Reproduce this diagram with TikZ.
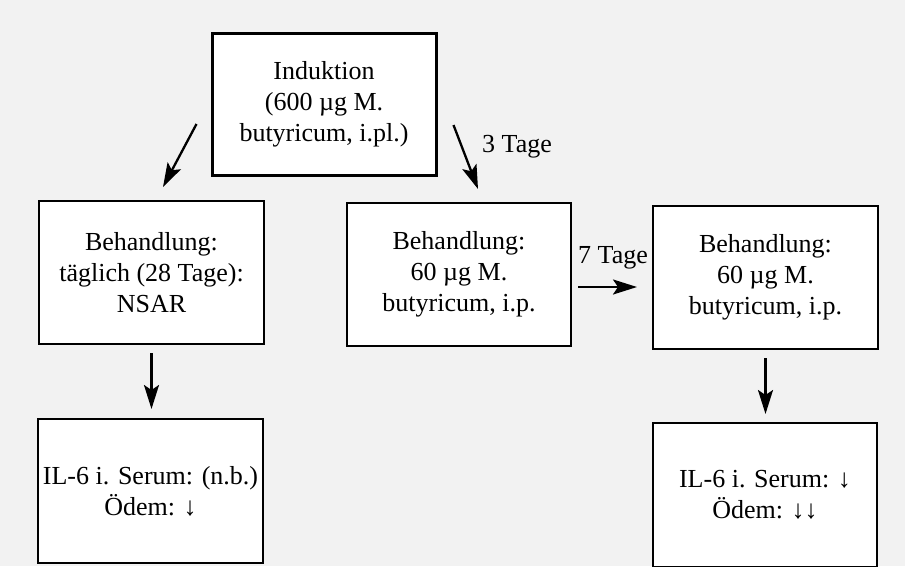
\documentclass[tikz,border=0pt]{standalone}
\usepackage{fontspec}
\setmainfont{Liberation Serif}
\usetikzlibrary{arrows.meta}
\usetikzlibrary{calc}

\begin{document}
\begin{tikzpicture}[x=1pt,y=-1pt,
    kasten/.style={draw=black, line width=2pt, fill=white, minimum width=225pt, minimum height=143pt, align=center, inner sep=0pt,
      font=\fontsize{26}{31}\selectfont},
    pfeil/.style={line width=2.3pt, -{Stealth[length=24pt, width=15pt, inset=5pt]}},
    zeit/.style={font=\fontsize{26}{31}\selectfont, inner sep=0pt}]
          \clip (0,0) rectangle (905,566);
          \fill [gray!10] (0,0) rectangle (905,566); % background

          \node [kasten, line width=3pt, minimum width=224pt, minimum height=142pt] (induktion) at (324,104) {Induktion\\(600 µg M.\\butyricum, i.pl.)};

          \node [kasten] (behL) at (151.5,272.5) {Behandlung:\\täglich (28 Tage):\\NSAR};
          \node [kasten, minimum width=224pt] (behM) at (459,274.5) {Behandlung:\\60 µg M.\\butyricum, i.p.};
          \node [kasten] (behR) at (765.5,277.5) {Behandlung:\\60 µg M.\\butyricum, i.p.};

          \node [kasten, minimum height=144pt] (resL) at (150.5,491) {IL-6 i. Serum: (n.b.)\\Ödem: ↓};
          \node [kasten, minimum width=224pt, minimum height=144pt] (resR) at (765,495) {IL-6 i. Serum: ↓\\Ödem: ↓↓};

          \node [zeit, anchor=west] (drei) at (482,147) {3 Tage};
          \node [zeit] (sieben) at (613,258) {7 Tage};

          \draw [pfeil] ($(induktion.west)+(-14,20)$) to ($(behL.north)+(11.5,-13)$);
          \draw [pfeil] ($(induktion.east)+(16,21)$) to ($(behM.north)+(19,-13)$);

          \draw [pfeil] ($(behM.east)+(6,12.5)$) to ($(behR.west)+(-15,9.5)$);

          \draw [pfeil, shorten <=8pt, shorten >=9pt] (behL.south) to (behL.south |- resL.north);
          \draw [pfeil, shorten <=8pt, shorten >=8pt] (behR.south) to (behR.south |- resR.north);
        \end{tikzpicture}
\end{document}
